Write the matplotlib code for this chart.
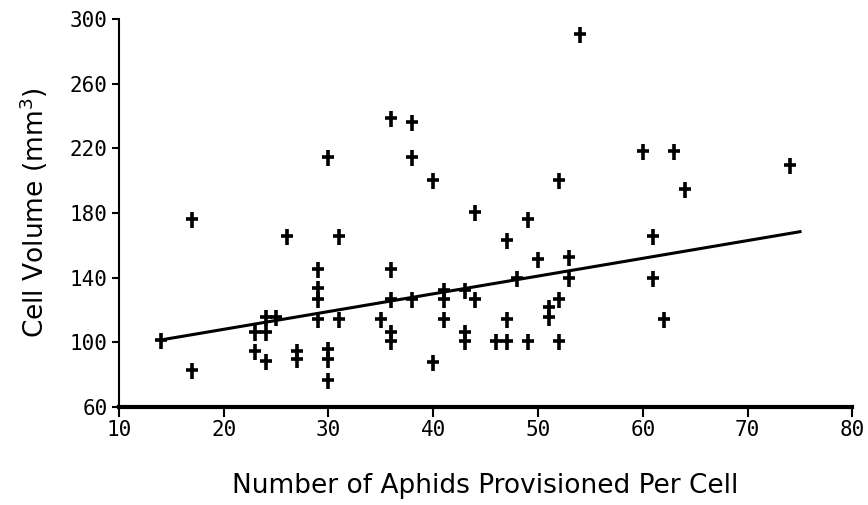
import matplotlib
matplotlib.use("Agg")
import matplotlib.pyplot as plt
from matplotlib.path import Path

# Data
aphids = [14, 17, 17, 23, 23, 24, 24, 24, 25, 26, 27, 27,
          29, 29, 29, 29, 30, 30, 30, 30, 31, 31, 35,
          36, 36, 36, 36, 36, 38, 38, 38, 40, 40,
          41, 41, 41, 43, 43, 43, 44, 44, 46, 47, 47, 47, 48,
          49, 49, 50, 51, 51, 52, 52, 52, 53, 53, 54,
          60, 61, 61, 62, 63, 64, 74]
volume = [101, 176, 82, 106, 94, 115, 106, 88, 115, 165, 94, 89,
          145, 133, 126, 114, 214, 95, 89, 76, 165, 114, 114,
          238, 145, 126, 106, 100, 236, 214, 126, 200, 87,
          132, 126, 114, 132, 106, 100, 180, 126, 100, 163, 114, 100, 139,
          176, 100, 151, 121, 115, 200, 126, 100, 152, 139, 290,
          218, 165, 139, 114, 218, 194, 209]

fit_x = [14, 75]
fit_y = [101.5, 168.5]

x_ticks = [10, 20, 30, 40, 50, 60, 70, 80]
y_ticks = [60, 100, 140, 180, 220, 260, 300]

# tall plus marker (vertical stroke longer than horizontal)
tall_plus = Path([[-0.7, 0.1], [0.7, 0.1], [0, -1], [0, 1]],
                 [Path.MOVETO, Path.LINETO, Path.MOVETO, Path.LINETO])

fig = plt.figure(figsize=(8.68, 5.05), dpi=100)
ax = fig.add_axes([0.137, 0.194, 0.845, 0.768])

ax.plot(aphids, volume, linestyle="none", marker=tall_plus, color="black",
        markersize=12, markeredgewidth=2.6)
ax.plot(fit_x, fit_y, color="black", linewidth=2.2)

ax.set_xlim(10, 80)
ax.set_ylim(60, 300)
ax.set_xticks(x_ticks)
ax.set_yticks(y_ticks)

tick_font = dict(family="DejaVu Sans Mono", size=15)
ax.set_xticklabels([str(t) for t in x_ticks], **tick_font)
ax.set_yticklabels([str(t) for t in y_ticks], **tick_font)

for s in ["top", "right"]:
    ax.spines[s].set_visible(False)
ax.spines["bottom"].set_linewidth(3)
ax.spines["left"].set_linewidth(1.5)
ax.tick_params(axis="x", direction="out", length=7, width=1.5, pad=2)
ax.tick_params(axis="y", direction="out", length=5, width=1.5, pad=3)

label_font = dict(family="DejaVu Sans", size=19)
ax.set_xlabel("Number of Aphids Provisioned Per Cell", labelpad=24, **label_font)
ax.set_ylabel("Cell Volume (mm$^3$)", labelpad=14, **label_font)

fig.savefig("out.png", dpi=100, facecolor="white")
